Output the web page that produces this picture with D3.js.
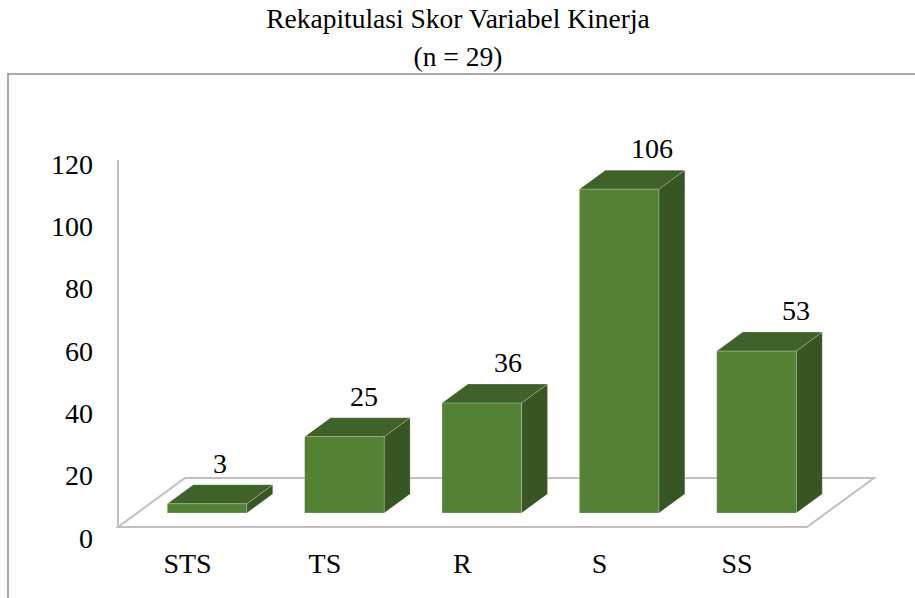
<!DOCTYPE html>
<html>
<head>
<meta charset="utf-8">
<script src="https://cdn.jsdelivr.net/npm/d3@7"></script>
</head>
<body style="margin:0;background:#fff">
<svg id="viz" width="915" height="598" style="display:block"></svg>
<script>
// ---- data ----
const titleLines = ["Rekapitulasi Skor Variabel Kinerja", "(n = 29)"];
const categories = ["STS", "TS", "R", "S", "SS"];
const values = [3, 25, 36, 106, 53];
const yTicks = [0, 20, 40, 60, 80, 100, 120];

// ---- layout ----
const W = 915, H = 598;
const FONT = '"Liberation Serif", "Times New Roman", Times, serif';
const svg = d3.select("#viz");
const depthX = 26, depthY = -19;       // bar depth offset
const barW = 79.5;
const floor = { fl: [118, 527], dx: 67, dy: -49, fr: 807 };

const xBar = d3.scalePoint().domain(categories).range([207, 756.5]);
const xCat = d3.scalePoint().domain(categories).range([187.5, 737]);
const xVal = d3.scalePoint().domain(categories).range([220, 796]);
const yBar = d3.scaleLinear().domain([0, 120]).range([513, 146.4]);
const yAxis = d3.scaleLinear().domain([0, 120]).range([538, 164]);

function label(sel) {
  return sel.style("font-family", FONT, "important").attr("fill", "#000");
}

// frame (top and left edges visible)
svg.append("path")
  .attr("d", `M8,${H} V74 H${W}`)
  .attr("fill", "none")
  .attr("stroke", "#8c8c8c")
  .attr("stroke-width", 1.5);

// title
svg.append("g").selectAll("text").data(titleLines).join("text")
  .attr("x", 458)
  .attr("y", (d, i) => i === 0 ? 28 : 66)
  .attr("text-anchor", "middle")
  .attr("font-size", 27.5)
  .call(label)
  .text(d => d);

// floor & axis line
const [flx, fly] = floor.fl;
svg.append("path")
  .attr("d", `M${flx},${fly} L${flx + floor.dx},${fly + floor.dy} L${floor.fr + floor.dx},${fly + floor.dy} L${floor.fr},${fly} Z`)
  .attr("fill", "none")
  .attr("stroke", "#bfbfbf")
  .attr("stroke-width", 2);
svg.append("line")
  .attr("x1", flx).attr("x2", flx)
  .attr("y1", 160).attr("y2", fly)
  .attr("stroke", "#bfbfbf")
  .attr("stroke-width", 2);

// y tick labels
svg.append("g").selectAll("text").data(yTicks).join("text")
  .attr("x", 93)
  .attr("y", d => yAxis(d))
  .attr("dy", "0.35em")
  .attr("text-anchor", "end")
  .attr("font-size", 28)
  .call(label)
  .text(d => d);

// x category labels
svg.append("g").selectAll("text").data(categories).join("text")
  .attr("x", d => xCat(d))
  .attr("y", 573)
  .attr("text-anchor", "middle")
  .attr("font-size", 28)
  .call(label)
  .text(d => d);

// bars
const data = categories.map((c, i) => ({ c, v: values[i] }));
const bars = svg.append("g").selectAll("g").data(data).join("g");

bars.append("path") // side face
  .attr("d", d => {
    const x1 = xBar(d.c) + barW / 2, yt = yBar(d.v), yb = yBar(0);
    return `M${x1},${yt} L${x1 + depthX},${yt + depthY} L${x1 + depthX},${yb + depthY} L${x1},${yb} Z`;
  })
  .attr("fill", "#375623")
  .attr("stroke", "rgba(255,255,255,0.35)")
  .attr("stroke-width", 0.6);

bars.append("path") // top face
  .attr("d", d => {
    const x0 = xBar(d.c) - barW / 2, x1 = xBar(d.c) + barW / 2, yt = yBar(d.v);
    return `M${x0},${yt} L${x1},${yt} L${x1 + depthX},${yt + depthY} L${x0 + depthX},${yt + depthY} Z`;
  })
  .attr("fill", "#3f6229")
  .attr("stroke", "rgba(255,255,255,0.35)")
  .attr("stroke-width", 0.6);

bars.append("rect") // front face
  .attr("x", d => xBar(d.c) - barW / 2)
  .attr("y", d => yBar(d.v))
  .attr("width", barW)
  .attr("height", d => yBar(0) - yBar(d.v))
  .attr("fill", "#548235")
  .attr("stroke", "rgba(255,255,255,0.35)")
  .attr("stroke-width", 0.6);

// value labels
svg.append("g").selectAll("text").data(data).join("text")
  .attr("x", d => xVal(d.c))
  .attr("y", d => yBar(d.v) + depthY - 12)
  .attr("text-anchor", "middle")
  .attr("font-size", 28)
  .call(label)
  .text(d => d.v);
</script>
</body>
</html>
